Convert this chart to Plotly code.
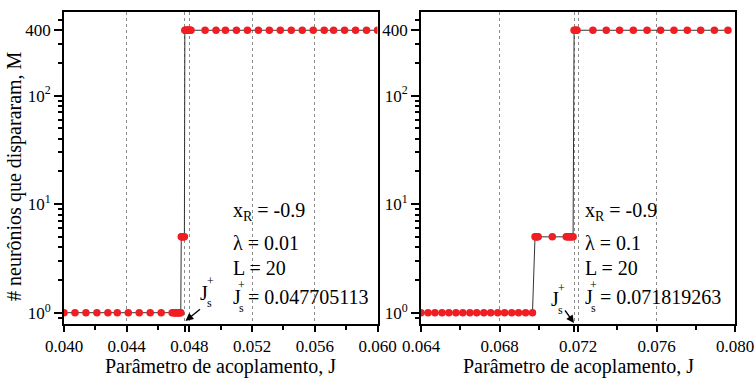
import plotly.graph_objects as go

# ---------------- data ----------------
J_left = [0.0400, 0.0407, 0.0414, 0.0421, 0.0428, 0.0434, 0.0441, 0.0448, 0.0455, 0.0462,
          0.0469, 0.04700, 0.04705, 0.0471, 0.04715, 0.0472, 0.04725, 0.0473, 0.04735, 0.0474, 0.04745,
          0.04748, 0.04753, 0.04758, 0.04763, 0.04768,
          0.04771, 0.04775, 0.0478, 0.04785, 0.0479, 0.04795, 0.0480, 0.04805, 0.0481,
          0.0490, 0.0497, 0.0503, 0.0510, 0.0517, 0.0524, 0.0531, 0.0538, 0.0545, 0.0552,
          0.0559, 0.0566, 0.0572, 0.0579, 0.0586, 0.0593, 0.0600]
M_left = [1] * 21 + [5] * 5 + [400] * 9 + [400] * 17

J_right = [0.0640, 0.06436, 0.06471, 0.06507, 0.06542, 0.06578, 0.06613, 0.06649, 0.06684,
           0.06720, 0.06755, 0.06791, 0.06826, 0.06862, 0.06897, 0.06933, 0.06968,
           0.06981, 0.06985, 0.06989, 0.06993, 0.06997,
           0.07069,
           0.07140, 0.07145, 0.0715, 0.07155, 0.0716, 0.07165, 0.0717, 0.07175,
           0.07180, 0.07185, 0.0719, 0.07195,
           0.07276, 0.07344, 0.07412, 0.07482, 0.07552, 0.07621, 0.07689, 0.07757,
           0.07825, 0.07895, 0.07964]
M_right = [1] * 17 + [5] * 5 + [5] + [5] * 8 + [400] * 4 + [400] * 11

Js_left = 0.047705113
Js_right = 0.071819263

x_ticks_left = [0.040, 0.044, 0.048, 0.052, 0.056, 0.060]
x_ticks_right = [0.064, 0.068, 0.072, 0.076, 0.080]
x_minor_left = [0.042, 0.046, 0.050, 0.054, 0.058]
x_minor_right = [0.066, 0.070, 0.074, 0.078]
y_ticks = [1, 10, 100, 400]
y_ticktext = ["10<sup>0</sup>", "10<sup>1</sup>", "10<sup>2</sup>", "400"]
y_minor = [0.9, 2, 3, 4, 5, 6, 7, 8, 9, 20, 30, 40, 50, 60, 70, 80, 90, 200, 300, 500]

params_left = ["-0.9", "0.01", "20", "0.047705113"]
params_right = ["-0.9", "0.1", "20", "0.071819263"]

# ---------------- styling ----------------
W, H = 754, 378
SERIF = "Liberation Serif"
RED = "rgb(240,30,35)"
LINE = "#333333"
GRID = "#8c8c8c"

dom_left = [64 / W, 377.5 / W]
dom_right = [421 / W, 735 / W]
dom_y = [1 - 324 / H, 1 - 11.7 / H]
yrange = [-0.104, 2.773]

fig = go.Figure()

fig.add_trace(go.Scatter(x=J_left, y=M_left, mode="lines+markers", xaxis="x", yaxis="y",
                         line=dict(color=LINE, width=1),
                         marker=dict(color=RED, size=7.5), showlegend=False, hoverinfo="skip"))
fig.add_trace(go.Scatter(x=J_right, y=M_right, mode="lines+markers", xaxis="x2", yaxis="y2",
                         line=dict(color=LINE, width=1),
                         marker=dict(color=RED, size=7.5), showlegend=False, hoverinfo="skip"))


def xmain(dom, rng, ticks, minor, js, anchor):
    tv = sorted(ticks + [js])
    tt = [("%.3f" % v) if v != js else " " for v in tv]
    return dict(domain=dom, range=rng, anchor=anchor, tickmode="array", tickvals=tv, ticktext=tt,
                tickangle=0, automargin=False, ticklabeloverflow="allow",
                ticks="outside", ticklen=6, tickwidth=1.5, tickcolor="black",
                showline=True, linewidth=1.8, linecolor="black", mirror=True,
                showgrid=True, gridcolor=GRID, gridwidth=1, griddash="3px,3px",
                zeroline=False,
                minor=dict(tickmode="array", tickvals=minor, ticks="outside", ticklen=4,
                           tickwidth=1.5, tickcolor="black", showgrid=False),
                tickfont=dict(family=SERIF, size=17, color="black"))


def xover(over, rng, ticks, minor, js, anchor):
    tv = sorted(ticks + [js])
    return dict(overlaying=over, range=rng, anchor=anchor, side="bottom", tickmode="array",
                tickvals=tv, showticklabels=False, automargin=False,
                ticks="inside", ticklen=7, tickwidth=1.5, tickcolor="black",
                showline=True, linewidth=1.8, linecolor="black", mirror="ticks",
                showgrid=False, zeroline=False,
                minor=dict(tickmode="array", tickvals=minor, ticks="inside", ticklen=4,
                           tickwidth=1.5, tickcolor="black", showgrid=False))


def ymain(anchor):
    return dict(domain=dom_y, type="log", range=yrange, anchor=anchor, tickmode="array",
                tickvals=y_ticks, ticktext=y_ticktext, automargin=False,
                ticklabeloverflow="allow",
                ticks="outside", ticklen=8, tickwidth=1.5, tickcolor="black",
                showline=True, linewidth=1.8, linecolor="black", mirror=True,
                showgrid=False, zeroline=False,
                minor=dict(tickmode="array", tickvals=y_minor, ticks="outside", ticklen=4,
                           tickwidth=1.5, tickcolor="black", showgrid=False),
                tickfont=dict(family=SERIF, size=17, color="black"))


def yover(over, anchor):
    return dict(overlaying=over, type="log", range=yrange, anchor=anchor, side="right",
                tickmode="array", tickvals=y_ticks, showticklabels=False, automargin=False,
                ticks="inside", ticklen=8, tickwidth=1.5, tickcolor="black",
                showline=True, linewidth=1.8, linecolor="black",
                showgrid=False, zeroline=False,
                minor=dict(tickmode="array", tickvals=y_minor, ticks="inside", ticklen=4,
                           tickwidth=1.5, tickcolor="black", showgrid=False))


fig.update_layout(
    width=W, height=H, margin=dict(l=0, r=0, t=0, b=0, autoexpand=False),
    paper_bgcolor="white", plot_bgcolor="white",
    xaxis=xmain(dom_left, [0.040, 0.060], x_ticks_left, x_minor_left, Js_left, "y"),
    yaxis=ymain("x"),
    xaxis2=xmain(dom_right, [0.064, 0.080], x_ticks_right, x_minor_right, Js_right, "y2"),
    yaxis2=ymain("x2"),
    xaxis3=xover("x", [0.040, 0.060], x_ticks_left, x_minor_left, Js_left, "y"),
    yaxis3=yover("y", "x"),
    xaxis4=xover("x2", [0.064, 0.080], x_ticks_right, x_minor_right, Js_right, "y2"),
    yaxis4=yover("y2", "x2"),
)

annots = []


def px(x, y, text, size=20, xanchor="left", yanchor="middle"):
    annots.append(dict(x=x / W, y=1 - y / H, xref="paper", yref="paper", text=text,
                       showarrow=False, xanchor=xanchor, yanchor=yanchor,
                       font=dict(family=SERIF, size=size, color="black")))


def param_block(x0, vals):
    px(x0, 211, "x<sub>R</sub> = " + vals[0])
    px(x0, 243, "λ = " + vals[1])
    px(x0, 268, "L = " + vals[2])
    px(x0, 297, "J")
    px(x0 + 5, 285, "+", size=12)
    px(x0 + 6, 308, "s", size=12)
    px(x0 + 15, 297, "= " + vals[3])


param_block(231, params_left)
param_block(583, params_right)

# J_s^+ arrow labels
px(198, 293, "J")
px(205, 281, "+", size=12)
px(205, 303, "s", size=12)
px(549, 299, "J")
px(556, 288, "+", size=12)
px(556, 310, "s", size=12)

# arrows
annots.append(dict(x=185.5 / W, y=1 - 321 / H, xref="paper", yref="paper", text="",
                   showarrow=True, arrowhead=2, arrowsize=1.2, arrowwidth=1.3,
                   arrowcolor="black", ax=16, ay=-13))
annots.append(dict(x=574 / W, y=1 - 323 / H, xref="paper", yref="paper", text="",
                   showarrow=True, arrowhead=2, arrowsize=1.2, arrowwidth=1.3,
                   arrowcolor="black", ax=-10, ay=-14))

# axis titles
px(220.5, 366, "Parâmetro de acoplamento, J", size=20, xanchor="center")
px(578, 366, "Parâmetro de acoplamento, J", size=20, xanchor="center")
annots.append(dict(x=14 / W, y=1 - 176 / H, xref="paper", yref="paper",
                   text="# neurônios que dispararam, M", showarrow=False, textangle=-90,
                   xanchor="center", yanchor="middle",
                   font=dict(family=SERIF, size=20, color="black")))

fig.update_layout(annotations=annots)

fig.write_html("out.html", config={"displayModeBar": False},
               post_script="document.body.style.margin='0';document.body.style.padding='0';")
